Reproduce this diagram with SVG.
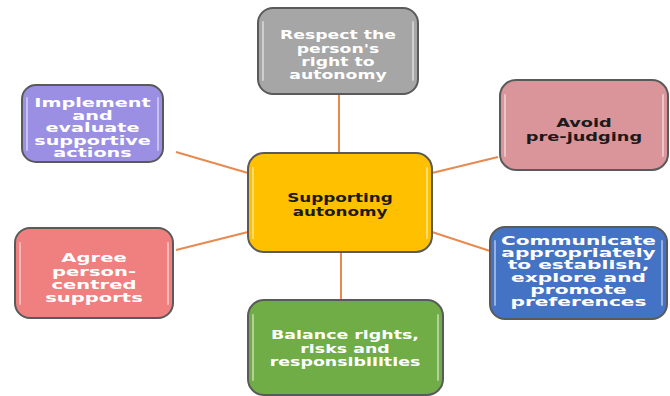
<svg xmlns="http://www.w3.org/2000/svg" width="670" height="396" viewBox="0 0 670 396">
  <style>
    .box { stroke: #5a5a5a; stroke-width: 2; }
    .shine { stroke: #ffffff; stroke-opacity: 0.45; stroke-width: 2; fill: none; stroke-linecap: round; }
    .lbl { font-family: "DejaVu Sans", Verdana, sans-serif; font-weight: bold; font-size: 12px; text-anchor: middle; }
    .w { fill: #ffffff; }
    .k { fill: #1a1a1a; }
    .link { stroke: #e8894f; stroke-width: 2; fill: none; }
  </style>

  <rect width="670" height="396" fill="#ffffff"/>

  <!-- spokes from the hub to each outer box -->
  <g id="connectors">
    <line class="link" x1="339" y1="94" x2="339" y2="153"/>
    <line class="link" x1="176" y1="152" x2="248" y2="173"/>
    <line class="link" x1="432" y1="173" x2="498" y2="157"/>
    <line class="link" x1="176" y1="250" x2="248" y2="232"/>
    <line class="link" x1="432" y1="232" x2="490" y2="251"/>
    <line class="link" x1="341" y1="252" x2="341" y2="300"/>
  </g>

  <!-- hub -->
  <g id="hub">
    <rect class="box" x="248" y="153" width="184" height="99" rx="16" fill="#ffc000"/>
    <path class="shine" d="M253 168 V238 M427 168 V238"/>
    <g transform="translate(340,0) scale(1.4,1)">
      <text class="lbl k" font-size="13"><tspan x="0" y="202">Supporting</tspan><tspan x="0" y="216">autonomy</tspan></text>
    </g>
  </g>

  <g id="respect">
    <rect class="box" x="258" y="8" width="160" height="86" rx="15" fill="#a6a6a6"/>
    <path class="shine" d="M263 22 V80 M413 22 V80"/>
    <g transform="translate(338,0) scale(1.44,1)">
      <text class="lbl w"><tspan x="0" y="39.5">Respect the</tspan><tspan x="0" y="53">person's</tspan><tspan x="0" y="66.5">right to</tspan><tspan x="0" y="79.5">autonomy</tspan></text>
    </g>
  </g>

  <g id="implement">
    <rect class="box" x="22" y="85" width="141" height="77" rx="14" fill="#9b8fe3"/>
    <path class="shine" d="M27 98 V150 M158 98 V150"/>
    <g transform="translate(92.5,0) scale(1.6,1)">
      <text class="lbl w" font-size="11"><tspan x="0" y="107.5">Implement</tspan><tspan x="0" y="120">and</tspan><tspan x="0" y="132.5">evaluate</tspan><tspan x="0" y="145">supportive</tspan><tspan x="0" y="157.5">actions</tspan></text>
    </g>
  </g>

  <g id="avoid">
    <rect class="box" x="500" y="80" width="168" height="90" rx="16" fill="#d9959a"/>
    <path class="shine" d="M505 95 V156 M663 95 V156"/>
    <g transform="translate(584,0) scale(1.48,1)">
      <text class="lbl k" font-size="12.3"><tspan x="0" y="127.5">Avoid</tspan><tspan x="0" y="141.5">pre-judging</tspan></text>
    </g>
  </g>

  <g id="agree">
    <rect class="box" x="15" y="228" width="158" height="90" rx="15" fill="#f08080"/>
    <path class="shine" d="M20 243 V304 M168 243 V304"/>
    <g transform="translate(94,0) scale(1.63,1)">
      <text class="lbl w"><tspan x="0" y="262.5">Agree</tspan><tspan x="0" y="276">person-</tspan><tspan x="0" y="289.5">centred</tspan><tspan x="0" y="302.5">supports</tspan></text>
    </g>
  </g>

  <g id="communicate">
    <rect class="box" x="490" y="227" width="177" height="92" rx="15" fill="#4472c4"/>
    <path class="shine" d="M495 241 V305 M662 241 V305"/>
    <g transform="translate(578.5,0) scale(1.68,1)">
      <text class="lbl w" font-size="10.3"><tspan x="0" y="245">Communicate</tspan><tspan x="0" y="257.2">appropriately</tspan><tspan x="0" y="269.4">to establish,</tspan><tspan x="0" y="281.6">explore and</tspan><tspan x="0" y="293.8">promote</tspan><tspan x="0" y="306">preferences</tspan></text>
    </g>
  </g>

  <g id="balance">
    <rect class="box" x="248" y="300" width="195" height="95" rx="16" fill="#70ad47"/>
    <path class="shine" d="M253 315 V380 M438 315 V380"/>
    <g transform="translate(345,0) scale(1.45,1)">
      <text class="lbl w"><tspan x="0" y="339.5">Balance rights,</tspan><tspan x="0" y="353">risks and</tspan><tspan x="0" y="366.5">responsibilities</tspan></text>
    </g>
  </g>
</svg>
